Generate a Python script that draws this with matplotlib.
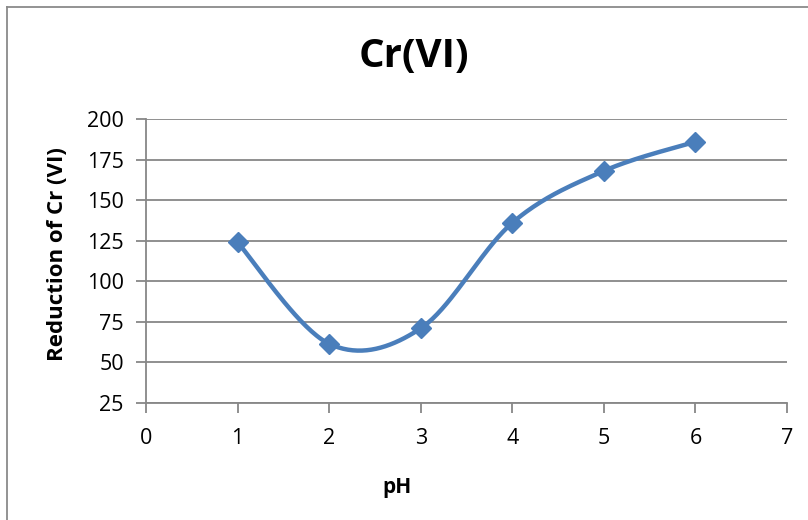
import numpy as np
import matplotlib
matplotlib.use("Agg")
import matplotlib.pyplot as plt
from matplotlib.lines import Line2D

plt.rcParams['font.family'] = ['Open Sans', 'DejaVu Sans']

ph = [1, 2, 3, 4, 5, 6]
reduction = [124, 61.5, 71, 136, 168, 186]
y_ticks = [25, 50, 75, 100, 125, 150, 175, 200]
x_ticks = [0, 1, 2, 3, 4, 5, 6, 7]

LINE_BLUE = '#4A7EBB'
AXIS_GREY = '#878787'


def smooth_curve(xs, ys, n=40):
    """Cubic Bezier smoothing through every point (Catmull-Rom style)."""
    p = np.column_stack([xs, ys]).astype(float)
    pts = []
    for i in range(len(p) - 1):
        p0 = p[i - 1] if i > 0 else p[i]
        p1 = p[i]
        p2 = p[i + 1]
        p3 = p[i + 2] if i + 2 < len(p) else p[i + 1]
        c1 = p1 + (p2 - p0) / 6.0
        c2 = p2 - (p3 - p1) / 6.0
        t = np.linspace(0, 1, n)[:, None]
        seg = ((1 - t) ** 3) * p1 + 3 * ((1 - t) ** 2) * t * c1 \
            + 3 * (1 - t) * t ** 2 * c2 + t ** 3 * p2
        pts.append(seg if i == 0 else seg[1:])
    out = np.vstack(pts)
    return out[:, 0], out[:, 1]


W, H = 808, 520
fig = plt.figure(figsize=(W / 100, H / 100), dpi=100)
ax = fig.add_axes([146 / W, 1 - 403 / H, (787 - 146) / W, (403 - 119) / H])

sx, sy = smooth_curve(ph, reduction)
ax.plot(sx, sy, color=LINE_BLUE, lw=3.2, solid_capstyle='round', zorder=3)
ax.plot(ph, reduction, linestyle='none', marker='D', ms=10,
        color=LINE_BLUE, zorder=4)

ax.set_xlim(0, 7)
ax.set_ylim(25, 200)
ax.set_xticks(x_ticks)
ax.set_yticks(y_ticks)
ax.grid(axis='y', color=AXIS_GREY, lw=1.3)
ax.set_axisbelow(True)

for side in ('top', 'right'):
    ax.spines[side].set_visible(False)
for side in ('left', 'bottom'):
    ax.spines[side].set_color(AXIS_GREY)
    ax.spines[side].set_linewidth(1.3)

ax.tick_params(axis='both', direction='out', length=7, width=1.3,
               color=AXIS_GREY, labelsize=15.5, labelcolor='black')
ax.tick_params(axis='x', pad=11)
ax.tick_params(axis='y', pad=9)

# axis titles placed in figure pixels
fig.text(397 / W, 1 - 487 / H, 'pH', fontsize=15, fontweight='bold',
         ha='center', va='center')
fig.text(58 / W, 1 - 254 / H, 'Reduction of Cr (VI)', fontsize=16,
         fontweight='bold', rotation=90, ha='center', va='center')

fig.text(414 / W, 1 - 56 / H, 'Cr(VI)', fontsize=29, fontweight='bold',
         ha='center', va='center')

# chart border (left and top edges)
fig.add_artist(Line2D([7 / W, 7 / W], [0, 1 - 7 / H],
                      transform=fig.transFigure, color='#8a8a8a', lw=1.3))
fig.add_artist(Line2D([7 / W, 1], [1 - 7 / H, 1 - 7 / H],
                      transform=fig.transFigure, color='#8a8a8a', lw=1.3))

fig.savefig('out.png', dpi=100)
